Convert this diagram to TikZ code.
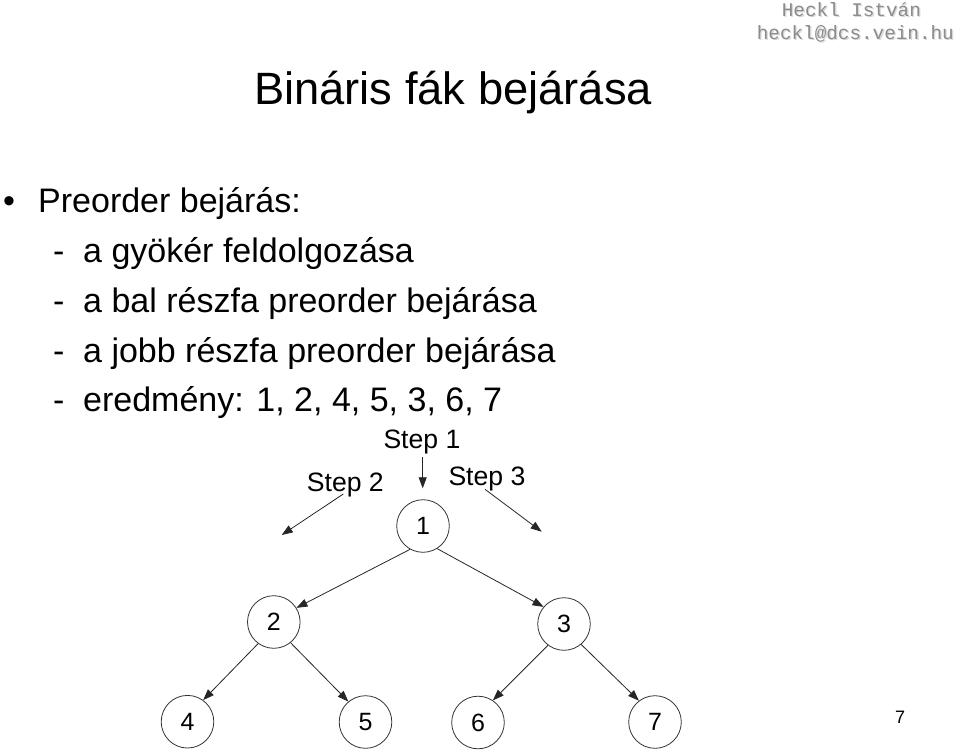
\documentclass[tikz,border=0pt]{standalone}
\usepackage{fontspec}
\setmainfont{Liberation Sans}
\newfontfamily\wmfont{Liberation Mono}
\usetikzlibrary{arrows.meta}
\tikzset{
  tnode/.style={circle, draw=black!80, line width=0.8pt, minimum size=52.6pt, inner sep=0pt, font=\fontsize{25}{30}\selectfont},
  edge/.style={draw=black!85, line width=0.8pt, -{Triangle[length=11pt,width=8pt]}},
  txt/.style={anchor=base west, inner sep=0pt},
  body/.style={txt, font=\fontsize{34}{40}\selectfont},
  steplbl/.style={anchor=base west, inner sep=0pt, font=\fontsize{26.6}{30}\selectfont},
  wm/.style={anchor=base west, inner sep=0pt, font=\wmfont\fontsize{19.3}{22}\selectfont}
}
\begin{document}
\begin{tikzpicture}[x=1pt,y=-1pt]
\useasboundingbox (0,0) rectangle (960,751);
\fill[white] (0,0) rectangle (960,751);
% watermark
\node[wm, text=black!15] at (783,18) {Heckl István};
\node[wm, text=black!15] at (758,41) {heckl@dcs.vein.hu};
\node[wm, text=black!45] (wm1) at (781.7,17) {Heckl István};
\node[wm, text=black!45] (wm2) at (756.7,40) {heckl@dcs.vein.hu};
% title
\node[txt, font=\fontsize{45.3}{54}\selectfont] (title) at (254,105) {Bináris fák bejárása};
% bullets
\node[body] (bul) at (0,213) {\hspace*{3pt}•};
\node[body] (l0) at (38,213) {Preorder bejárás:};
\node[body] (d1) at (53,262) {-};
\node[body] (l1) at (83,262) {a gyökér feldolgozása};
\node[body] (d2) at (53,312) {-};
\node[body] (l2) at (83,312) {a bal részfa preorder bejárása};
\node[body] (d3) at (53,362) {-};
\node[body] (l3) at (83,362) {a jobb részfa preorder bejárása};
\node[body] (d4) at (53,411) {-};
\node[body] (l4) at (83,411) {eredmény: 1, 2, 4, 5, 3, 6, 7};
% step labels
\node[steplbl] (st1) at (383.3,448.3) {Step 1};
\node[steplbl] (st2) at (306.7,491.7) {Step 2};
\node[steplbl] (st3) at (448.3,485) {Step 3};
\coordinate (s1a) at (422.7,456.7);
\coordinate (s1b) at (422.7,488.3);
\coordinate (s2a) at (343.3,494);
\coordinate (s2b) at (281.7,535);
\coordinate (s3a) at (485,489.3);
\coordinate (s3b) at (541.7,531.7);
\draw[edge] (s1a) -- (s1b);
\draw[edge] (s2a) -- (s2b);
\draw[edge] (s3a) -- (s3b);
% tree
\node[tnode] (n1) at (423,526) {1};
\node[tnode] (n2) at (273.8,622) {2};
\node[tnode] (n3) at (564,624) {3};
\node[tnode] (n4) at (187.5,721.7) {4};
\node[tnode] (n5) at (365.5,722) {5};
\node[tnode] (n6) at (478,722.5) {6};
\node[tnode] (n7) at (655,722) {7};
\draw[edge] (n1.241.6) -- (n2.32);
\draw[edge] (n1.302) -- (n3.140);
\draw[edge] (n2.234) -- (n4.54.8);
\draw[edge] (n2.309) -- (n5.130);
\draw[edge] (n3.233) -- (n6.56);
\draw[edge] (n3.310) -- (n7.127);
% page number
\node[txt, font=\fontsize{18}{20}\selectfont] (pg) at (895,723) {7};
\end{tikzpicture}
\end{document}
